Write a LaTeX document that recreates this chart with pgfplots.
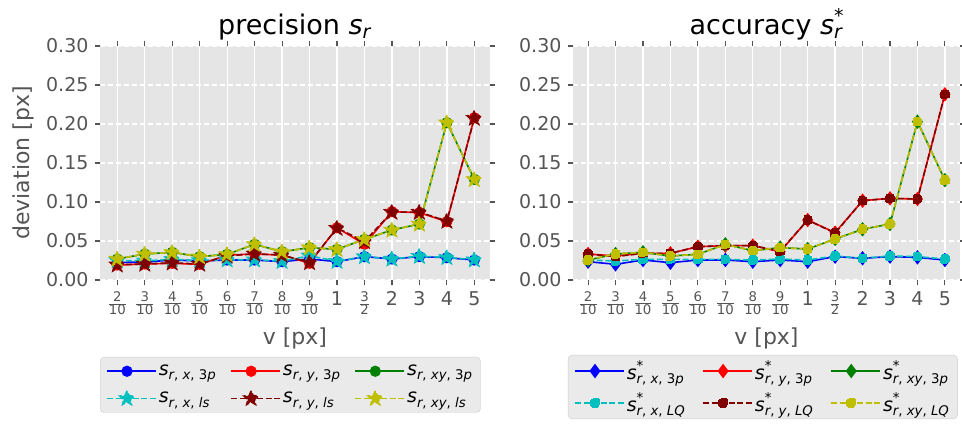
\documentclass[border=0pt]{standalone}
\usepackage{fontspec}
\setmainfont{DejaVu Sans}
\usepackage{amsmath}
\usepackage{pgfplots}
\usepackage{pgfplotstable}
\pgfplotsset{compat=1.18}
\usetikzlibrary{plotmarks}

\definecolor{bgc}{HTML}{E5E5E5}
\definecolor{tickc}{HTML}{555555}
\definecolor{legbg}{HTML}{EAEAEA}
\definecolor{legdraw}{HTML}{CCCCCC}
\definecolor{mblue}{rgb}{0,0,1}
\definecolor{mred}{rgb}{1,0,0}
\definecolor{mgreen}{rgb}{0,0.5,0}
\definecolor{mcyan}{rgb}{0,0.75,0.75}
\definecolor{mdred}{rgb}{0.5,0,0}
\definecolor{myel}{rgb}{0.75,0.75,0}

\pgfdeclareplotmark{fstar}{%
  \pgfpathmoveto{\pgfqpointpolar{90}{\pgfplotmarksize}}%
  \pgfpathlineto{\pgfqpointpolar{126}{0.45\pgfplotmarksize}}%
  \pgfpathlineto{\pgfqpointpolar{162}{\pgfplotmarksize}}%
  \pgfpathlineto{\pgfqpointpolar{198}{0.45\pgfplotmarksize}}%
  \pgfpathlineto{\pgfqpointpolar{234}{\pgfplotmarksize}}%
  \pgfpathlineto{\pgfqpointpolar{270}{0.45\pgfplotmarksize}}%
  \pgfpathlineto{\pgfqpointpolar{306}{\pgfplotmarksize}}%
  \pgfpathlineto{\pgfqpointpolar{342}{0.45\pgfplotmarksize}}%
  \pgfpathlineto{\pgfqpointpolar{18}{\pgfplotmarksize}}%
  \pgfpathlineto{\pgfqpointpolar{54}{0.45\pgfplotmarksize}}%
  \pgfpathclose
  \pgfusepathqfillstroke}

\newcommand{\sr}[1]{\textit{s}\textsubscript{#1}}
\newcommand{\srs}[1]{\textit{s}\rlap{\raisebox{0.12em}{\textsuperscript{*}}}\textsubscript{#1}}
\newcommand{\fr}[2]{$\frac{\text{#1}}{\text{#2}}$}

% left: precision
\pgfplotstableread{
i x3p    xls    y3p    yls    xy3p   xyls
0 0.0225 0.0250 0.0192 0.0195 0.0269 0.0269
1 0.0230 0.0245 0.0205 0.0205 0.0333 0.0333
2 0.0256 0.0265 0.0214 0.0220 0.0355 0.0355
3 0.0244 0.0250 0.0201 0.0205 0.0299 0.0299
4 0.0256 0.0260 0.0320 0.0310 0.0329 0.0329
5 0.0256 0.0260 0.0333 0.0335 0.0457 0.0457
6 0.0235 0.0240 0.0320 0.0320 0.0363 0.0363
7 0.0270 0.0310 0.0214 0.0225 0.0415 0.0415
8 0.0235 0.0240 0.0670 0.0665 0.0393 0.0393
9 0.0300 0.0300 0.0457 0.0495 0.0521 0.0521
10 0.0269 0.0270 0.0876 0.0870 0.0641 0.0641
11 0.0300 0.0305 0.0863 0.0870 0.0718 0.0718
12 0.0286 0.0290 0.0748 0.0755 0.2017 0.2017
13 0.0256 0.0260 0.2080 0.2075 0.1290 0.1290
}\precdata

% right: accuracy
\pgfplotstableread{
i x3p    xlq    y3p    ylq    xy3p   xylq
0 0.0235 0.0256 0.0333 0.0333 0.0256 0.0260
1 0.0201 0.0244 0.0308 0.0300 0.0333 0.0333
2 0.0256 0.0265 0.0342 0.0342 0.0355 0.0355
3 0.0222 0.0265 0.0342 0.0342 0.0308 0.0308
4 0.0256 0.0265 0.0427 0.0427 0.0329 0.0329
5 0.0256 0.0265 0.0440 0.0440 0.0457 0.0457
6 0.0235 0.0256 0.0440 0.0440 0.0376 0.0376
7 0.0256 0.0269 0.0363 0.0370 0.0415 0.0415
8 0.0235 0.0256 0.0769 0.0769 0.0397 0.0397
9 0.0300 0.0308 0.0607 0.0600 0.0526 0.0526
10 0.0278 0.0278 0.1017 0.1017 0.0650 0.0650
11 0.0300 0.0308 0.1047 0.1047 0.0718 0.0718
12 0.0290 0.0300 0.1038 0.1038 0.2030 0.2030
13 0.0256 0.0269 0.2380 0.2380 0.1280 0.1280
}\accdata

\pgfplotsset{
  myaxis/.style={
    scale only axis,
    height=234pt,
    ymin=0, ymax=0.30,
    axis background/.style={fill=bgc},
    axis line style={draw=none},
    xtick={0,1,2,3,4,5,6,7,8,9,10,11,12,13},
    xticklabels={\fr{2}{10},\fr{3}{10},\fr{4}{10},\fr{5}{10},\fr{6}{10},\fr{7}{10},\fr{8}{10},\fr{9}{10},1,\fr{3}{2},2,3,4,5},
    ytick={0,0.05,0.1,0.15,0.2,0.25,0.3},
    grid=major,
    x grid style={white, line width=1.3pt},
    y grid style={white, line width=1.3pt, dash pattern=on 5pt off 3pt},
    tick align=outside,
    major tick length=8pt,
    every tick/.style={tickc, line width=1.1pt, dash pattern=on 0pt off 3pt on 5pt},
    ticklabel style={font=\fontsize{19}{23}\selectfont, text=tickc},
    yticklabel style={/pgf/number format/.cd, fixed, fixed zerofill, precision=2, assume math mode=true},
    xticklabel style={anchor=north},
    xlabel={v [px]},
    every axis x label/.append style={at={(axis description cs:0.5,-0.248)}, anchor=center, font=\fontsize{22}{26}\selectfont, text=tickc},
    every axis y label/.append style={font=\fontsize{22}{26}\selectfont, text=tickc},
    title style={font=\fontsize{27}{32}\selectfont, at={(axis description cs:0.5,1)}, anchor=base, yshift=5pt},
    legend columns=3,
    legend cell align=left,
    legend style={fill=legbg, draw=legdraw, rounded corners=4pt,
      font=\fontsize{19}{23}\selectfont, text=black, row sep=11pt,
      inner xsep=6pt, inner ysep=6pt,
      /tikz/every even column/.append style={column sep=12pt},
      /tikz/every odd column/.append style={column sep=0pt}},
    legend image code/.code={\draw[mark repeat=2,mark phase=2,##1] plot coordinates {(0pt,0pt) (20pt,0pt) (41pt,0pt)}; \path (0pt,0pt) -- (49pt,0pt);},
  },
  p3/.style={solid, line width=1.6pt, mark options={solid}},
  pd/.style={dash pattern=on 6pt off 2.6pt, line width=1.6pt, mark options={solid}},
}

\begin{document}
\begin{tikzpicture}
\begin{axis}[myaxis, at={(100pt,148pt)}, anchor=south west, width=390pt,
  xmin=-0.63, xmax=13.57,
  title={precision \sr{\textit{r}}},
  ylabel={deviation [px]},
  every axis y label/.append style={at={(axis description cs:-0.197,0.5)}, anchor=center},
  legend style={at={(axis description cs:0,-0.329)}, anchor=north west},
]
\addplot[p3, color=mblue, mark=*, mark size=4.8pt] table[x=i,y=x3p]{\precdata};
\addlegendentry{\sr{\textit{r}, \textit{x}, 3\textit{p}}}
\addplot[p3, color=mred, mark=*, mark size=4.8pt] table[x=i,y=y3p]{\precdata};
\addlegendentry{\sr{\textit{r}, \textit{y}, 3\textit{p}}}
\addplot[p3, color=mgreen, mark=*, mark size=4.8pt] table[x=i,y=xy3p]{\precdata};
\addlegendentry{\sr{\textit{r}, \textit{xy}, 3\textit{p}}}
\addplot[pd, color=mcyan, mark=fstar, mark size=7.5pt, mark options={fill=mcyan}] table[x=i,y=xls]{\precdata};
\addlegendentry{\sr{\textit{r}, \textit{x}, \textit{ls}}}
\addplot[pd, color=mdred, mark=fstar, mark size=7.5pt, mark options={fill=mdred}] table[x=i,y=yls]{\precdata};
\addlegendentry{\sr{\textit{r}, \textit{y}, \textit{ls}}}
\addplot[pd, color=myel, mark=fstar, mark size=7.5pt, mark options={fill=myel}] table[x=i,y=xyls]{\precdata};
\addlegendentry{\sr{\textit{r}, \textit{xy}, \textit{ls}}}
\end{axis}

\begin{axis}[myaxis, at={(573pt,148pt)}, anchor=south west, width=387pt,
  xmin=-0.55, xmax=13.55,
  title={accuracy \srs{\textit{r}}},
  legend style={at={(axis description cs:-0.013,-0.32)}, anchor=north west, row sep=8pt, inner ysep=4pt, /tikz/every even column/.append style={column sep=15pt}},
]
\addplot[p3, color=mblue, mark=diamond*, mark size=6pt] table[x=i,y=x3p]{\accdata};
\addlegendentry{\srs{\textit{r}, \textit{x}, 3\textit{p}}}
\addplot[p3, color=mred, mark=diamond*, mark size=6pt] table[x=i,y=y3p]{\accdata};
\addlegendentry{\srs{\textit{r}, \textit{y}, 3\textit{p}}}
\addplot[p3, color=mgreen, mark=diamond*, mark size=6pt] table[x=i,y=xy3p]{\accdata};
\addlegendentry{\srs{\textit{r}, \textit{xy}, 3\textit{p}}}
\addplot[pd, color=mcyan, mark=square*, mark size=4pt, mark options={fill=mcyan}] table[x=i,y=xlq]{\accdata};
\addlegendentry{\srs{\textit{r}, \textit{x}, \textit{LQ}}}
\addplot[pd, color=mdred, mark=square*, mark size=4pt, mark options={fill=mdred}] table[x=i,y=ylq]{\accdata};
\addlegendentry{\srs{\textit{r}, \textit{y}, \textit{LQ}}}
\addplot[pd, color=myel, mark=square*, mark size=4pt, mark options={fill=myel}] table[x=i,y=xylq]{\accdata};
\addlegendentry{\srs{\textit{r}, \textit{xy}, \textit{LQ}}}
\end{axis}
\pgfresetboundingbox
\path[use as bounding box] (0,0) rectangle (962pt,428pt);
\end{tikzpicture}
\end{document}
